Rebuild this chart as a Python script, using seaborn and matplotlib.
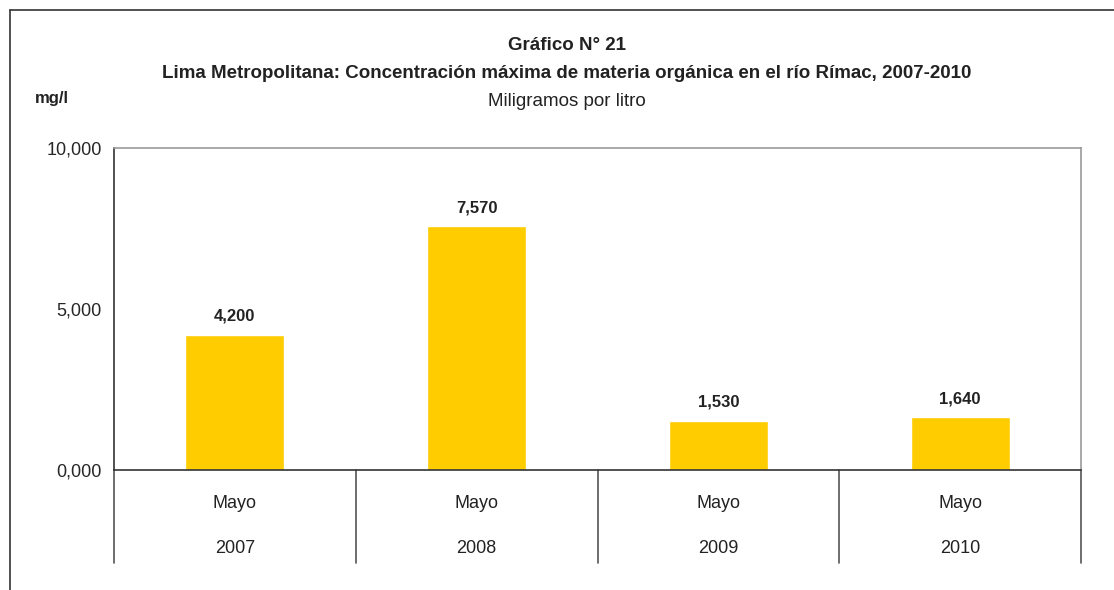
import matplotlib
matplotlib.use("Agg")
import matplotlib.pyplot as plt
from matplotlib.lines import Line2D
import pandas as pd
import seaborn as sns

meses = ["Mayo", "Mayo", "Mayo", "Mayo"]
anios = ["2007", "2008", "2009", "2010"]
valores = [4200, 7570, 1530, 1640]
etiquetas = ["4,200", "7,570", "1,530", "1,640"]
yticks = [0, 5000, 10000]
yticklabels = ["0,000", "5,000", "10,000"]

sns.set_style("white")
plt.rcParams['font.family'] = ['Liberation Sans Narrow', 'Liberation Sans', 'DejaVu Sans']

df = pd.DataFrame({"anio": anios, "valor": valores})

fig = plt.figure(figsize=(11.14, 5.90), dpi=100)
W, H = 1114, 590
ax = fig.add_axes([114 / W, 1 - 470 / H, (1081 - 114) / W, (470 - 148) / H])

sns.barplot(data=df, x="anio", y="valor", color="#FFCC00", width=0.41,
            saturation=1, ax=ax)

ax.set_ylim(0, 10000)
ax.set_xlim(-0.5, len(anios) - 0.5)
ax.set_yticks(yticks)
ax.set_yticklabels(yticklabels, fontsize=13)
ax.set_xticks([])
ax.set_xlabel("")
ax.set_ylabel("")
ax.tick_params(axis="y", length=5, width=1, color="#333333", direction="out", pad=4)

for s in ["top", "right"]:
    ax.spines[s].set_color("#999999")
    ax.spines[s].set_linewidth(1.2)
ax.spines["left"].set_color("#333333")
ax.spines["bottom"].set_color("#333333")
ax.spines["left"].set_linewidth(1.2)
ax.spines["bottom"].set_linewidth(1.2)

# value labels
for i, (v, t) in enumerate(zip(valores, etiquetas)):
    ax.annotate(t, (i, v), xytext=(0, 8), textcoords="offset points",
                ha="center", va="bottom", fontsize=12, fontweight="bold",
                color="#222222")

# two-level category axis
trans = ax.get_xaxis_transform()
for i, (m, a) in enumerate(zip(meses, anios)):
    ax.text(i, -0.105, m, transform=trans, ha="center", va="center",
            fontsize=13, color="#222222")
    ax.text(i, -0.245, a, transform=trans, ha="center", va="center",
            fontsize=13, color="#222222")
for k in range(len(anios) + 1):
    ax.add_line(Line2D([k - 0.5, k - 0.5], [0, -0.29], transform=trans,
                       color="#555555", lw=1.2, clip_on=False))

# outer frame
fig.add_artist(Line2D([10 / W, 10 / W], [0, 1 - 10 / H], color="#333333", lw=1.2))
fig.add_artist(Line2D([10 / W, 1], [1 - 10 / H, 1 - 10 / H], color="#333333", lw=1.2))

# titles
fig.text(567 / W, 1 - 45 / H, "Gráfico N° 21", ha="center", va="center",
         fontsize=13.5, fontweight="bold", color="#222222")
fig.text(567 / W, 1 - 74 / H,
         "Lima Metropolitana: Concentración máxima de materia orgánica en el río Rímac, 2007-2010",
         ha="center", va="center", fontsize=13.5, fontweight="bold", color="#222222")
fig.text(567 / W, 1 - 101 / H, "Miligramos por litro", ha="center", va="center",
         fontsize=13.5, color="#222222")
fig.text(52 / W, 1 - 98 / H, "mg/l", ha="center", va="center",
         fontsize=12, fontweight="bold", color="#222222")

fig.savefig("out.png", dpi=100, facecolor="white")
